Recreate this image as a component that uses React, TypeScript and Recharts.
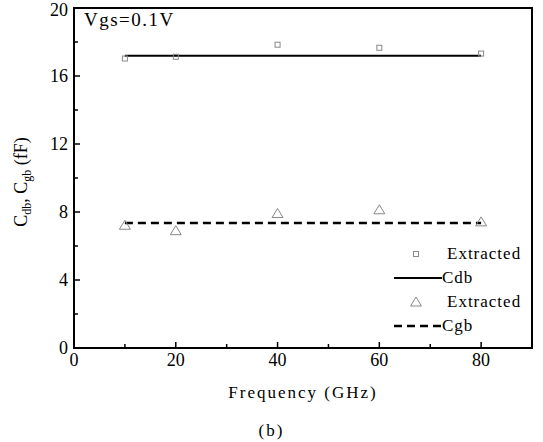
import {
  ComposedChart,
  Line,
  Scatter,
  XAxis,
  YAxis,
  Label,
  ReferenceArea,
} from 'recharts'

const freqs = [10, 20, 40, 60, 80]
const cdbExtracted = [17.03, 17.13, 17.84, 17.66, 17.32]
const cgbExtracted = [7.22, 6.9, 7.91, 8.13, 7.42]
const cdbFit = [17.19, 17.19, 17.19, 17.19, 17.19]
const cgbFit = [7.36, 7.36, 7.36, 7.36, 7.36]

const xTicks = [0, 10, 20, 30, 40, 50, 60, 70, 80]
const xLabels = [0, 20, 40, 60, 80]
const yTicks = [0, 2, 4, 6, 8, 10, 12, 14, 16, 18, 20]
const yLabels = [0, 4, 8, 12, 16, 20]

const rows = freqs.map((f, i) => ({
  freq: f,
  cdbExt: cdbExtracted[i],
  cgbExt: cgbExtracted[i],
  cdb: cdbFit[i],
  cgb: cgbFit[i],
}))

const FONT = '"Liberation Serif", "Times New Roman", serif'

// eslint-disable-next-line @typescript-eslint/no-explicit-any
function XTick({ x, y, payload }: any) {
  const major = xLabels.includes(payload.value)
  return (
    <g>
      <line x1={x} x2={x} y1={y} y2={y - (major ? 6 : 4)} stroke="#000" strokeWidth={1.5} />
      {major && (
        <text x={x} y={y + 18} textAnchor="middle" fontFamily={FONT} fontSize={18} fill="#000">
          {payload.value}
        </text>
      )}
    </g>
  )
}

// eslint-disable-next-line @typescript-eslint/no-explicit-any
function YTick({ x, y, payload }: any) {
  const major = yLabels.includes(payload.value)
  return (
    <g>
      <line x1={x} x2={x + (major ? 6 : 4)} y1={y} y2={y} stroke="#000" strokeWidth={1.5} />
      {major && (
        <text x={x - 6} y={Math.max(y + 6, 16)} textAnchor="end" fontFamily={FONT} fontSize={18} fill="#000">
          {payload.value}
        </text>
      )}
    </g>
  )
}

// eslint-disable-next-line @typescript-eslint/no-explicit-any
function SquareDot({ cx, cy }: any) {
  return <rect x={cx - 2.5} y={cy - 2.5} width={5} height={5} fill="none" stroke="#888" strokeWidth={1} />
}

// eslint-disable-next-line @typescript-eslint/no-explicit-any
function TriangleDot({ cx, cy }: any) {
  return (
    <polygon
      points={`${cx},${cy - 5} ${cx - 5.5},${cy + 4} ${cx + 5.5},${cy + 4}`}
      fill="none"
      stroke="#888"
      strokeWidth={1}
    />
  )
}

function LegendBox() {
  const item = (icon: React.ReactNode, text: string) => (
    <div style={{ display: 'flex', alignItems: 'center', height: 24 }}>
      <svg width={50} height={20}>{icon}</svg>
      <span style={{ fontFamily: FONT, fontSize: 17, letterSpacing: 1, marginLeft: text.startsWith('E') ? 3 : -2 }}>
        {text}
      </span>
    </div>
  )
  return (
    <div style={{ position: 'absolute', left: 394, top: 242 }}>
      {item(<rect x={19.5} y={7.5} width={5} height={5} fill="none" stroke="#888" />, 'Extracted')}
      {item(<line x1={0} x2={48} y1={10} y2={10} stroke="#000" strokeWidth={2} />, 'Cdb')}
      {item(<polygon points="22,5 16.5,14 27.5,14" fill="none" stroke="#888" />, 'Extracted')}
      {item(<line x1={0} x2={48} y1={10} y2={10} stroke="#000" strokeWidth={2.5} strokeDasharray="8 5" />, 'Cgb')}
    </div>
  )
}

// eslint-disable-next-line @typescript-eslint/no-explicit-any
function YLabel({ viewBox }: any) {
  const cy = viewBox.y + viewBox.height / 2 + 4
  return (
    <text
      transform={`translate(27, ${cy}) rotate(-90)`}
      textAnchor="middle"
      fontFamily={FONT}
      fontSize={18}
      fill="#000"
    >
      C<tspan fontSize={12} dy={4}>db</tspan>
      <tspan dy={-4}>, C</tspan>
      <tspan fontSize={12} dy={4}>gb</tspan>
      <tspan dy={-4}> (fF)</tspan>
    </text>
  )
}

export default function App() {
  return (
    <div style={{ position: 'absolute', left: 0, top: 0, width: 543, height: 442, background: '#fff' }}>
      <ComposedChart
        width={543}
        height={442}
        data={rows}
        margin={{ top: 8, right: 11, left: 0, bottom: 0 }}
      >
        <XAxis
          dataKey="freq"
          type="number"
          domain={[0, 90]}
          ticks={xTicks}
          interval={0}
          tickLine={false}
          tickSize={0}
          tickMargin={0}
          axisLine={{ stroke: '#000', strokeWidth: 2 }}
          tick={<XTick />}
          height={94}
        >
          <Label
            value="Frequency (GHz)"
            position="insideTop"
            offset={38}
            style={{ fontFamily: FONT, fontSize: 17, letterSpacing: 2, fill: '#000' }}
          />
        </XAxis>
        <YAxis
          type="number"
          domain={[0, 20]}
          ticks={yTicks}
          interval={0}
          tickLine={false}
          tickSize={0}
          tickMargin={0}
          axisLine={{ stroke: '#000', strokeWidth: 2 }}
          tick={<YTick />}
          width={74}
        >
          <Label content={<YLabel />} />
        </YAxis>
        <ReferenceArea
          x1={0}
          x2={90}
          y1={0}
          y2={20}
          fill="none"
          fillOpacity={0}
          stroke="#000"
          strokeWidth={2}
          strokeOpacity={1}
        />
        <Line
          dataKey="cdb"
          stroke="#000"
          strokeWidth={2}
          dot={false}
          isAnimationActive={false}
        />
        <Line
          dataKey="cgb"
          stroke="#000"
          strokeWidth={2.5}
          strokeDasharray="8 5"
          dot={false}
          isAnimationActive={false}
        />
        <Scatter dataKey="cdbExt" shape={<SquareDot />} isAnimationActive={false} />
        <Scatter dataKey="cgbExt" shape={<TriangleDot />} isAnimationActive={false} />
      </ComposedChart>
      <LegendBox />
      <div
        style={{
          position: 'absolute',
          left: 0,
          width: 543,
          top: 421,
          textAlign: 'center',
          fontFamily: FONT,
          fontSize: 17,
          letterSpacing: 2,
        }}
      >
        (b)
      </div>
      <div
        style={{
          position: 'absolute',
          left: 84,
          top: 9,
          fontFamily: FONT,
          fontSize: 19,
          letterSpacing: 1.5,
        }}
      >
        Vgs=0.1V
      </div>
    </div>
  )
}
